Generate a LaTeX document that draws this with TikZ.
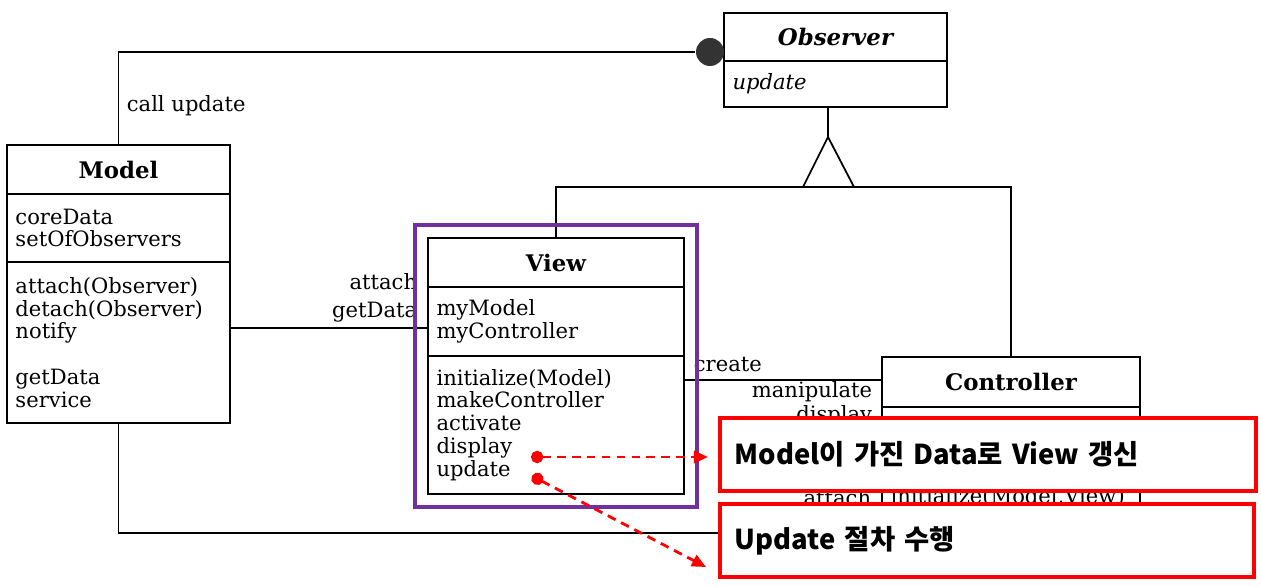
\documentclass[tikz,border=0pt]{standalone}
\usepackage{fontspec}
\setmainfont{DejaVu Serif}
\newfontfamily\kofont{Noto Sans CJK KR}
\usetikzlibrary{arrows.meta,positioning,fit}

\definecolor{framepurple}{RGB}{112,48,160}
\definecolor{notered}{RGB}{255,0,0}

\begin{document}
\begin{tikzpicture}[x=0.02cm, y=-0.02cm, line width=1pt,
  every node/.style={font=\fontsize{12}{13}\selectfont},
  chead/.style={draw, outer sep=0pt, font=\fontsize{13}{15}\selectfont\bfseries},
  cpart/.style={draw, outer sep=0pt, inner xsep=0.17cm, align=left, text width=#1},
  lbl/.style={inner sep=0pt},
  notebox/.style={draw=notered, line width=2.2pt, fill=white, anchor=north west,
    inner xsep=0.3cm, align=left, font=\kofont\fontsize{15.6}{18}\selectfont\bfseries},
  notearrow/.style={notered, line width=1.6pt, dash pattern=on 5pt off 3.5pt,
    {Circle[length=7pt]}-{Triangle[length=8pt,width=7pt]}}]
\useasboundingbox[fill=white] (0,0) rectangle (1261,587);

% Model
\node[chead, anchor=north west, minimum width=4.46cm, minimum height=0.98cm] (mhead) at (7,145) {Model};
\node[cpart=4.12cm, below=0pt of mhead, minimum height=1.36cm] (mattr) {coreData\\setOfObservers};
\node[cpart=4.12cm, below=0pt of mattr, minimum height=3.22cm] (mops)
  {attach(Observer)\\detach(Observer)\\notify\\[13pt]getData\\service};

% Observer
\node[chead, anchor=north west, minimum width=4.46cm, minimum height=0.96cm,
  font=\fontsize{13}{15}\selectfont\bfseries\itshape] (ohead) at (724,13) {Observer};
\node[cpart=4.12cm, below=0pt of ohead, minimum height=0.92cm] (oops) {\itshape update};

% View
\node[chead, anchor=north west, minimum width=5.12cm, minimum height=0.98cm] (vhead) at (428,238) {View};
\node[cpart=4.78cm, below=0pt of vhead, minimum height=1.38cm] (vattr) {myModel\\myController};
\node[cpart=4.78cm, below=0pt of vattr, minimum height=2.76cm] (vops)
  {initialize(Model)\\makeController\\activate\\display\\update};

% Controller
\node[chead, anchor=north west, minimum width=5.16cm, minimum height=1.0cm] (chead) at (882,357) {Controller};
\node[cpart=4.82cm, below=0pt of chead, minimum height=1.16cm] (cattr) {};
\node[cpart=4.82cm, below=0pt of cattr, minimum height=1.28cm] (cops) {initialize(Model,View)};

% call update
\node[circle, fill=black!80, minimum size=0.56cm, inner sep=0pt] (odot) at (710,52) {};
\draw (mhead.north) |- (odot);
\node[lbl, anchor=base west] (lcall) at (126,112) {call update};

% generalization
\coordinate (apex) at (828,137);
\coordinate (bus) at (828,187);
\draw (oops.south -| apex) -- (apex);
\draw[fill=white] (apex) -- (803,187) -- (854,187) -- cycle;
\draw (vhead.north) |- (bus) -| (chead.north);

% Model -- View
\draw (mops.east |- 0,328) -- (vattr.west |- 0,328);
\node[lbl, anchor=base east] (lattach) at (418,290) {attach};
\node[lbl, anchor=base east] (lget) at (418,318) {getData};

% View -- Controller
\draw (vops.east |- 0,380) -- (chead.west |- 0,380);
\node[lbl, anchor=base west] (lcreate) at (693,372) {create};
\node[lbl, anchor=base east] (lmanip) at (873,398) {manipulate};
\node[lbl, anchor=base east] (ldisp) at (873,421) {display};

% Model -- Controller
\coordinate (cin) at (882,533);
\draw (mops.south) |- (cin);
\node[lbl, anchor=base east] (lattach2) at (872,505) {attach};

\node[draw=framepurple, line width=2pt, fit=(vhead)(vops), inner sep=0.26cm] (vframe) {};

% notes
\node[notebox, minimum width=10.72cm, minimum height=1.46cm, text width=10.12cm] (note1) at (718,416)
  {Model이 가진 Data로 View 갱신};
\node[notebox, minimum width=10.68cm, minimum height=1.46cm, text width=10.08cm] (note2) at (718,502)
  {Update 절차 수행};

\coordinate (dispdot) at (531,457);
\coordinate (upddot) at (532,476);
\coordinate (updend) at (706,567);
\draw[notearrow, shorten >=0.2cm] (dispdot) -- (dispdot -| note1.west);
\draw[notearrow] (upddot) -- (updend);
\end{tikzpicture}
\end{document}
